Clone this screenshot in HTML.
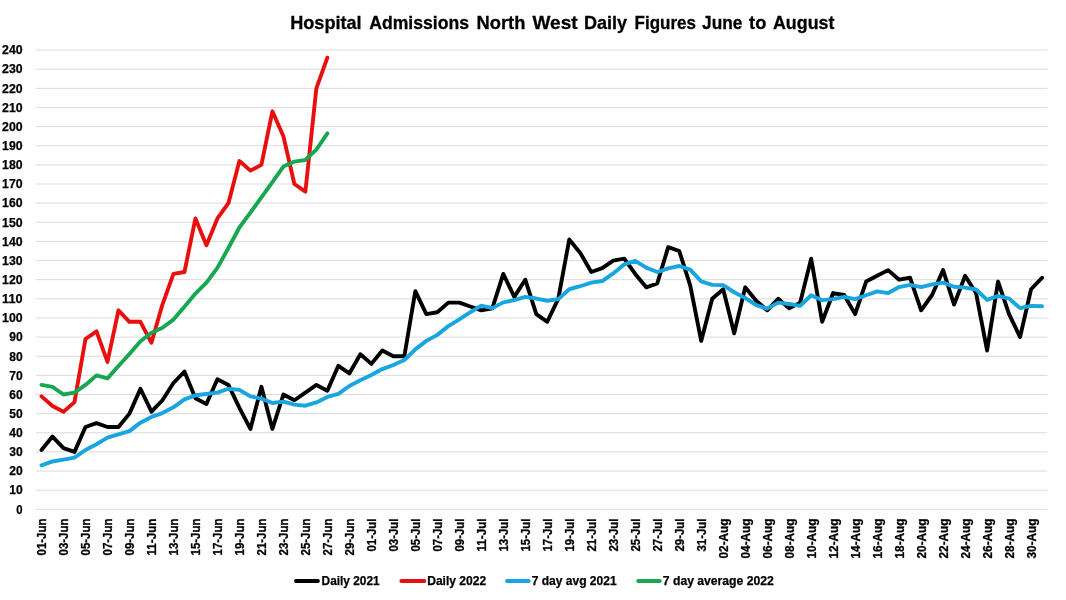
<!DOCTYPE html>
<html><head><meta charset="utf-8"><title>Hospital Admissions North West Daily Figures June to August</title>
<style>
html,body{margin:0;padding:0;background:#fff;}
body{width:1066px;height:600px;overflow:hidden;}
svg{display:block;}
text{font-family:"Liberation Sans",sans-serif;font-weight:bold;fill:#000;}
</style></head><body>
<svg width="1066" height="600" viewBox="0 0 1066 600">
<rect width="1066" height="600" fill="#ffffff"/>

<g stroke="#DBDBDB" stroke-width="1">
<line x1="36" x2="1047.5" y1="509.30" y2="509.30"/>
<line x1="36" x2="1047.5" y1="490.17" y2="490.17"/>
<line x1="36" x2="1047.5" y1="471.03" y2="471.03"/>
<line x1="36" x2="1047.5" y1="451.89" y2="451.89"/>
<line x1="36" x2="1047.5" y1="432.76" y2="432.76"/>
<line x1="36" x2="1047.5" y1="413.62" y2="413.62"/>
<line x1="36" x2="1047.5" y1="394.49" y2="394.49"/>
<line x1="36" x2="1047.5" y1="375.36" y2="375.36"/>
<line x1="36" x2="1047.5" y1="356.22" y2="356.22"/>
<line x1="36" x2="1047.5" y1="337.09" y2="337.09"/>
<line x1="36" x2="1047.5" y1="317.95" y2="317.95"/>
<line x1="36" x2="1047.5" y1="298.82" y2="298.82"/>
<line x1="36" x2="1047.5" y1="279.68" y2="279.68"/>
<line x1="36" x2="1047.5" y1="260.55" y2="260.55"/>
<line x1="36" x2="1047.5" y1="241.41" y2="241.41"/>
<line x1="36" x2="1047.5" y1="222.28" y2="222.28"/>
<line x1="36" x2="1047.5" y1="203.14" y2="203.14"/>
<line x1="36" x2="1047.5" y1="184.00" y2="184.00"/>
<line x1="36" x2="1047.5" y1="164.87" y2="164.87"/>
<line x1="36" x2="1047.5" y1="145.74" y2="145.74"/>
<line x1="36" x2="1047.5" y1="126.60" y2="126.60"/>
<line x1="36" x2="1047.5" y1="107.47" y2="107.47"/>
<line x1="36" x2="1047.5" y1="88.33" y2="88.33"/>
<line x1="36" x2="1047.5" y1="69.19" y2="69.19"/>
<line x1="36" x2="1047.5" y1="50.06" y2="50.06"/>
</g>
<g font-size="12" text-anchor="end" stroke="#000" stroke-width="0.25">
<text x="22.6" y="513.60" textLength="6.3" lengthAdjust="spacingAndGlyphs">0</text>
<text x="22.6" y="494.47" textLength="13.4" lengthAdjust="spacingAndGlyphs">10</text>
<text x="22.6" y="475.33" textLength="13.4" lengthAdjust="spacingAndGlyphs">20</text>
<text x="22.6" y="456.19" textLength="13.4" lengthAdjust="spacingAndGlyphs">30</text>
<text x="22.6" y="437.06" textLength="13.4" lengthAdjust="spacingAndGlyphs">40</text>
<text x="22.6" y="417.93" textLength="13.4" lengthAdjust="spacingAndGlyphs">50</text>
<text x="22.6" y="398.79" textLength="13.4" lengthAdjust="spacingAndGlyphs">60</text>
<text x="22.6" y="379.66" textLength="13.4" lengthAdjust="spacingAndGlyphs">70</text>
<text x="22.6" y="360.52" textLength="13.4" lengthAdjust="spacingAndGlyphs">80</text>
<text x="22.6" y="341.39" textLength="13.4" lengthAdjust="spacingAndGlyphs">90</text>
<text x="22.6" y="322.25" textLength="20.5" lengthAdjust="spacingAndGlyphs">100</text>
<text x="22.6" y="303.12" textLength="20.5" lengthAdjust="spacingAndGlyphs">110</text>
<text x="22.6" y="283.98" textLength="20.5" lengthAdjust="spacingAndGlyphs">120</text>
<text x="22.6" y="264.85" textLength="20.5" lengthAdjust="spacingAndGlyphs">130</text>
<text x="22.6" y="245.71" textLength="20.5" lengthAdjust="spacingAndGlyphs">140</text>
<text x="22.6" y="226.58" textLength="20.5" lengthAdjust="spacingAndGlyphs">150</text>
<text x="22.6" y="207.44" textLength="20.5" lengthAdjust="spacingAndGlyphs">160</text>
<text x="22.6" y="188.31" textLength="20.5" lengthAdjust="spacingAndGlyphs">170</text>
<text x="22.6" y="169.17" textLength="20.5" lengthAdjust="spacingAndGlyphs">180</text>
<text x="22.6" y="150.04" textLength="20.5" lengthAdjust="spacingAndGlyphs">190</text>
<text x="22.6" y="130.90" textLength="20.5" lengthAdjust="spacingAndGlyphs">200</text>
<text x="22.6" y="111.77" textLength="20.5" lengthAdjust="spacingAndGlyphs">210</text>
<text x="22.6" y="92.63" textLength="20.5" lengthAdjust="spacingAndGlyphs">220</text>
<text x="22.6" y="73.49" textLength="20.5" lengthAdjust="spacingAndGlyphs">230</text>
<text x="22.6" y="54.36" textLength="20.5" lengthAdjust="spacingAndGlyphs">240</text>
</g>
<g font-size="12.2" text-anchor="end" stroke="#000" stroke-width="0.3">
<text transform="translate(46.00,518.5) rotate(-90)" x="0" y="0" textLength="37.0" lengthAdjust="spacingAndGlyphs">01-Jun</text>
<text transform="translate(67.99,518.5) rotate(-90)" x="0" y="0" textLength="37.0" lengthAdjust="spacingAndGlyphs">03-Jun</text>
<text transform="translate(89.98,518.5) rotate(-90)" x="0" y="0" textLength="37.0" lengthAdjust="spacingAndGlyphs">05-Jun</text>
<text transform="translate(111.97,518.5) rotate(-90)" x="0" y="0" textLength="37.0" lengthAdjust="spacingAndGlyphs">07-Jun</text>
<text transform="translate(133.96,518.5) rotate(-90)" x="0" y="0" textLength="37.0" lengthAdjust="spacingAndGlyphs">09-Jun</text>
<text transform="translate(155.95,518.5) rotate(-90)" x="0" y="0" textLength="37.0" lengthAdjust="spacingAndGlyphs">11-Jun</text>
<text transform="translate(177.94,518.5) rotate(-90)" x="0" y="0" textLength="37.0" lengthAdjust="spacingAndGlyphs">13-Jun</text>
<text transform="translate(199.93,518.5) rotate(-90)" x="0" y="0" textLength="37.0" lengthAdjust="spacingAndGlyphs">15-Jun</text>
<text transform="translate(221.92,518.5) rotate(-90)" x="0" y="0" textLength="37.0" lengthAdjust="spacingAndGlyphs">17-Jun</text>
<text transform="translate(243.91,518.5) rotate(-90)" x="0" y="0" textLength="37.0" lengthAdjust="spacingAndGlyphs">19-Jun</text>
<text transform="translate(265.90,518.5) rotate(-90)" x="0" y="0" textLength="37.0" lengthAdjust="spacingAndGlyphs">21-Jun</text>
<text transform="translate(287.89,518.5) rotate(-90)" x="0" y="0" textLength="37.0" lengthAdjust="spacingAndGlyphs">23-Jun</text>
<text transform="translate(309.88,518.5) rotate(-90)" x="0" y="0" textLength="37.0" lengthAdjust="spacingAndGlyphs">25-Jun</text>
<text transform="translate(331.87,518.5) rotate(-90)" x="0" y="0" textLength="37.0" lengthAdjust="spacingAndGlyphs">27-Jun</text>
<text transform="translate(353.86,518.5) rotate(-90)" x="0" y="0" textLength="37.0" lengthAdjust="spacingAndGlyphs">29-Jun</text>
<text transform="translate(375.85,518.5) rotate(-90)" x="0" y="0" textLength="33.0" lengthAdjust="spacingAndGlyphs">01-Jul</text>
<text transform="translate(397.84,518.5) rotate(-90)" x="0" y="0" textLength="33.0" lengthAdjust="spacingAndGlyphs">03-Jul</text>
<text transform="translate(419.83,518.5) rotate(-90)" x="0" y="0" textLength="33.0" lengthAdjust="spacingAndGlyphs">05-Jul</text>
<text transform="translate(441.82,518.5) rotate(-90)" x="0" y="0" textLength="33.0" lengthAdjust="spacingAndGlyphs">07-Jul</text>
<text transform="translate(463.81,518.5) rotate(-90)" x="0" y="0" textLength="33.0" lengthAdjust="spacingAndGlyphs">09-Jul</text>
<text transform="translate(485.80,518.5) rotate(-90)" x="0" y="0" textLength="33.0" lengthAdjust="spacingAndGlyphs">11-Jul</text>
<text transform="translate(507.79,518.5) rotate(-90)" x="0" y="0" textLength="33.0" lengthAdjust="spacingAndGlyphs">13-Jul</text>
<text transform="translate(529.78,518.5) rotate(-90)" x="0" y="0" textLength="33.0" lengthAdjust="spacingAndGlyphs">15-Jul</text>
<text transform="translate(551.77,518.5) rotate(-90)" x="0" y="0" textLength="33.0" lengthAdjust="spacingAndGlyphs">17-Jul</text>
<text transform="translate(573.76,518.5) rotate(-90)" x="0" y="0" textLength="33.0" lengthAdjust="spacingAndGlyphs">19-Jul</text>
<text transform="translate(595.75,518.5) rotate(-90)" x="0" y="0" textLength="33.0" lengthAdjust="spacingAndGlyphs">21-Jul</text>
<text transform="translate(617.74,518.5) rotate(-90)" x="0" y="0" textLength="33.0" lengthAdjust="spacingAndGlyphs">23-Jul</text>
<text transform="translate(639.73,518.5) rotate(-90)" x="0" y="0" textLength="33.0" lengthAdjust="spacingAndGlyphs">25-Jul</text>
<text transform="translate(661.72,518.5) rotate(-90)" x="0" y="0" textLength="33.0" lengthAdjust="spacingAndGlyphs">27-Jul</text>
<text transform="translate(683.71,518.5) rotate(-90)" x="0" y="0" textLength="33.0" lengthAdjust="spacingAndGlyphs">29-Jul</text>
<text transform="translate(705.70,518.5) rotate(-90)" x="0" y="0" textLength="33.0" lengthAdjust="spacingAndGlyphs">31-Jul</text>
<text transform="translate(727.69,518.5) rotate(-90)" x="0" y="0" textLength="40.0" lengthAdjust="spacingAndGlyphs">02-Aug</text>
<text transform="translate(749.68,518.5) rotate(-90)" x="0" y="0" textLength="40.0" lengthAdjust="spacingAndGlyphs">04-Aug</text>
<text transform="translate(771.67,518.5) rotate(-90)" x="0" y="0" textLength="40.0" lengthAdjust="spacingAndGlyphs">06-Aug</text>
<text transform="translate(793.66,518.5) rotate(-90)" x="0" y="0" textLength="40.0" lengthAdjust="spacingAndGlyphs">08-Aug</text>
<text transform="translate(815.65,518.5) rotate(-90)" x="0" y="0" textLength="40.0" lengthAdjust="spacingAndGlyphs">10-Aug</text>
<text transform="translate(837.64,518.5) rotate(-90)" x="0" y="0" textLength="40.0" lengthAdjust="spacingAndGlyphs">12-Aug</text>
<text transform="translate(859.63,518.5) rotate(-90)" x="0" y="0" textLength="40.0" lengthAdjust="spacingAndGlyphs">14-Aug</text>
<text transform="translate(881.62,518.5) rotate(-90)" x="0" y="0" textLength="40.0" lengthAdjust="spacingAndGlyphs">16-Aug</text>
<text transform="translate(903.61,518.5) rotate(-90)" x="0" y="0" textLength="40.0" lengthAdjust="spacingAndGlyphs">18-Aug</text>
<text transform="translate(925.60,518.5) rotate(-90)" x="0" y="0" textLength="40.0" lengthAdjust="spacingAndGlyphs">20-Aug</text>
<text transform="translate(947.59,518.5) rotate(-90)" x="0" y="0" textLength="40.0" lengthAdjust="spacingAndGlyphs">22-Aug</text>
<text transform="translate(969.58,518.5) rotate(-90)" x="0" y="0" textLength="40.0" lengthAdjust="spacingAndGlyphs">24-Aug</text>
<text transform="translate(991.57,518.5) rotate(-90)" x="0" y="0" textLength="40.0" lengthAdjust="spacingAndGlyphs">26-Aug</text>
<text transform="translate(1013.56,518.5) rotate(-90)" x="0" y="0" textLength="40.0" lengthAdjust="spacingAndGlyphs">28-Aug</text>
<text transform="translate(1035.55,518.5) rotate(-90)" x="0" y="0" textLength="40.0" lengthAdjust="spacingAndGlyphs">30-Aug</text>
</g>
<text y="28.7" font-size="18.2" stroke="#000" stroke-width="0.3"><tspan x="290.2" textLength="71.4" lengthAdjust="spacingAndGlyphs">Hospital</tspan> <tspan x="369.2" textLength="99.9" lengthAdjust="spacingAndGlyphs">Admissions</tspan> <tspan x="476.5" textLength="48.9" lengthAdjust="spacingAndGlyphs">North</tspan> <tspan x="532.5" textLength="45.1" lengthAdjust="spacingAndGlyphs">West</tspan> <tspan x="583.9" textLength="43.1" lengthAdjust="spacingAndGlyphs">Daily</tspan> <tspan x="634.6" textLength="61.3" lengthAdjust="spacingAndGlyphs">Figures</tspan> <tspan x="702.1" textLength="40.3" lengthAdjust="spacingAndGlyphs">June</tspan> <tspan x="749.1" textLength="17.2" lengthAdjust="spacingAndGlyphs">to</tspan> <tspan x="773.0" textLength="61.4" lengthAdjust="spacingAndGlyphs">August</tspan></text>
<polyline fill="none" stroke="#000000" stroke-width="3.9" stroke-linecap="round" stroke-linejoin="round" points="41.50,449.98 52.49,436.59 63.49,448.07 74.48,451.89 85.48,427.02 96.47,423.19 107.47,427.02 118.46,427.02 129.46,413.62 140.45,388.75 151.45,411.71 162.44,400.23 173.44,383.01 184.44,371.53 195.43,398.32 206.42,404.06 217.42,379.18 228.41,384.92 239.41,407.88 250.40,428.93 261.40,386.84 272.39,428.93 283.39,394.49 294.38,400.23 305.38,392.58 316.38,384.92 327.37,390.66 338.36,365.79 349.36,373.44 360.35,354.31 371.35,363.87 382.34,350.48 393.34,356.22 404.33,356.22 415.33,291.16 426.32,314.12 437.32,312.21 448.31,302.64 459.31,302.64 470.30,306.47 481.30,310.30 492.29,308.38 503.29,273.94 514.28,296.90 525.28,279.68 536.27,314.12 547.27,321.78 558.26,298.82 569.26,239.50 580.25,252.89 591.25,272.03 602.25,268.20 613.24,260.55 624.24,258.63 635.23,273.94 646.22,287.33 657.22,283.51 668.21,247.15 679.21,250.98 690.20,285.42 701.20,340.91 712.19,298.82 723.19,289.25 734.18,333.26 745.18,287.33 756.17,300.73 767.17,310.30 778.16,298.82 789.16,308.38 800.15,302.64 811.15,258.63 822.14,321.78 833.14,293.07 844.13,294.99 855.13,314.12 866.12,281.59 877.12,275.85 888.11,270.11 899.11,279.68 910.10,277.77 921.10,310.30 932.09,294.99 943.09,270.11 954.08,304.56 965.08,275.85 976.07,293.07 987.07,350.48 998.06,281.59 1009.06,314.12 1020.05,337.09 1031.05,289.25 1042.05,277.77"/>
<polyline fill="none" stroke="#E8100F" stroke-width="3.9" stroke-linecap="round" stroke-linejoin="round" points="41.50,396.40 52.49,405.97 63.49,411.71 74.48,402.14 85.48,339.00 96.47,331.34 107.47,361.96 118.46,310.30 129.46,321.78 140.45,321.78 151.45,342.83 162.44,304.56 173.44,273.94 184.44,272.03 195.43,218.45 206.42,245.24 217.42,218.45 228.41,203.14 239.41,161.04 250.40,170.61 261.40,164.87 272.39,111.29 283.39,136.17 294.38,184.00 305.38,191.66 316.38,88.33 327.37,57.71"/>
<polyline fill="none" stroke="#18A5E0" stroke-width="3.9" stroke-linecap="round" stroke-linejoin="round" points="41.50,465.29 52.49,461.46 63.49,459.55 74.48,457.64 85.48,449.98 96.47,444.24 107.47,437.68 118.46,434.40 129.46,431.12 140.45,422.65 151.45,416.91 162.44,413.08 173.44,407.34 184.44,399.41 195.43,395.31 206.42,393.94 217.42,392.58 228.41,388.75 239.41,389.84 250.40,396.40 261.40,398.59 272.39,402.96 283.39,401.60 294.38,404.60 305.38,405.70 316.38,402.42 327.37,396.95 338.36,393.94 349.36,386.02 360.35,380.28 371.35,375.08 382.34,369.07 393.34,364.97 404.33,360.05 415.33,349.39 426.32,340.91 437.32,334.90 448.31,326.15 459.31,319.32 470.30,312.21 481.30,305.65 492.29,308.11 503.29,302.37 514.28,300.18 525.28,296.90 536.27,298.54 547.27,300.73 558.26,299.09 569.26,289.25 580.25,286.24 591.25,282.69 602.25,281.05 613.24,273.39 624.24,264.37 635.23,260.82 646.22,267.65 657.22,272.03 668.21,268.47 679.21,266.01 690.20,269.57 701.20,281.32 712.19,284.87 723.19,285.15 734.18,292.25 745.18,297.99 756.17,305.10 767.17,308.66 778.16,302.64 789.16,304.01 800.15,305.92 811.15,295.26 822.14,300.18 833.14,299.09 844.13,296.90 855.13,299.09 866.12,295.26 877.12,291.43 888.11,293.07 899.11,287.06 910.10,284.87 921.10,287.06 932.09,284.33 943.09,282.69 954.08,286.79 965.08,287.61 976.07,289.52 987.07,299.91 998.06,295.81 1009.06,298.54 1020.05,308.11 1031.05,305.92 1042.05,306.20"/>
<polyline fill="none" stroke="#17A750" stroke-width="3.9" stroke-linecap="round" stroke-linejoin="round" points="41.50,384.92 52.49,386.84 63.49,394.49 74.48,392.58 85.48,384.92 96.47,375.36 107.47,378.36 118.46,366.06 129.46,354.03 140.45,341.19 151.45,332.71 162.44,327.79 173.44,319.59 184.44,306.74 195.43,293.62 206.42,282.69 217.42,267.93 228.41,247.97 239.41,227.47 250.40,212.71 261.40,197.40 272.39,182.09 283.39,166.51 294.38,161.59 305.38,159.95 316.38,149.56 327.37,133.43"/>
<line x1="296.0" x2="317.9" y1="581" y2="581" stroke="#000000" stroke-width="3.9" stroke-linecap="round"/>
<text x="321.6" y="585" font-size="12" stroke="#000" stroke-width="0.25" textLength="58.0" lengthAdjust="spacingAndGlyphs">Daily 2021</text>
<line x1="401.4" x2="424.3" y1="581" y2="581" stroke="#E8100F" stroke-width="3.9" stroke-linecap="round"/>
<text x="427.2" y="585" font-size="12" stroke="#000" stroke-width="0.25" textLength="59.0" lengthAdjust="spacingAndGlyphs">Daily 2022</text>
<line x1="507.0" x2="528.7" y1="581" y2="581" stroke="#18A5E0" stroke-width="3.9" stroke-linecap="round"/>
<text x="531.7" y="585" font-size="12" stroke="#000" stroke-width="0.25" textLength="84.9" lengthAdjust="spacingAndGlyphs">7 day avg 2021</text>
<line x1="638.2" x2="659.8" y1="581" y2="581" stroke="#17A750" stroke-width="3.9" stroke-linecap="round"/>
<text x="662.8" y="585" font-size="12" stroke="#000" stroke-width="0.25" textLength="111.0" lengthAdjust="spacingAndGlyphs">7 day average 2022</text>
</svg></body></html>
